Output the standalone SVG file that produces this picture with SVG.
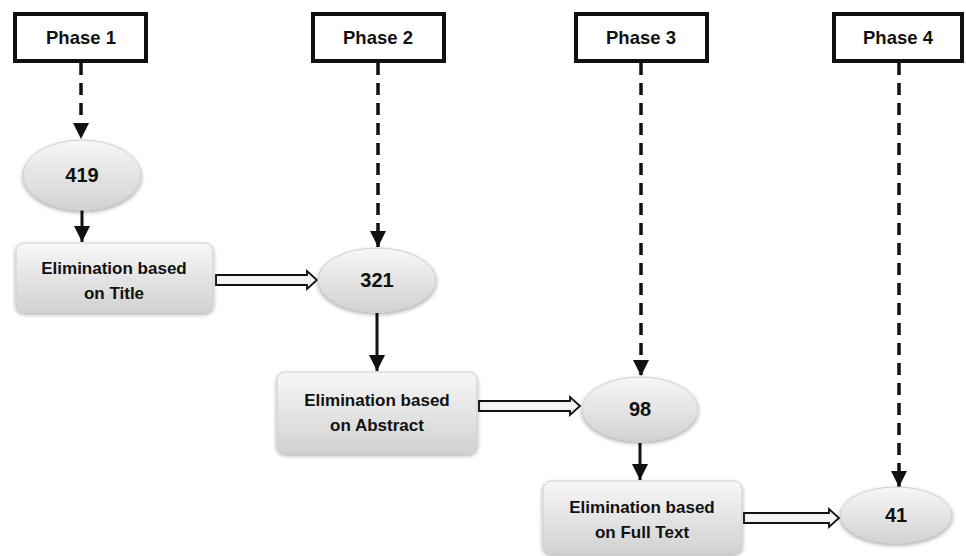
<svg xmlns="http://www.w3.org/2000/svg" width="966" height="556" viewBox="0 0 966 556">
<defs>
<linearGradient id="g" x1="0" y1="0" x2="0" y2="1">
<stop offset="0" stop-color="#f7f7f7"/>
<stop offset="1" stop-color="#d2d2d2"/>
</linearGradient>
<filter id="sh" x="-20%" y="-20%" width="140%" height="150%">
<feGaussianBlur in="SourceAlpha" stdDeviation="2"/>
<feOffset dx="0" dy="2" result="b"/>
<feComponentTransfer><feFuncA type="linear" slope="0.35"/></feComponentTransfer>
<feMerge><feMergeNode/><feMergeNode in="SourceGraphic"/></feMerge>
</filter>
<marker id="ah" markerUnits="userSpaceOnUse" markerWidth="16" markerHeight="16" viewBox="0 0 16 16" refX="16" refY="8" orient="auto">
<path d="M0,0 L16,8 L0,16 Z" fill="#111"/>
</marker>
</defs>
<style>
.ph{fill:#fff;stroke:#111;stroke-width:4}
.pt{font-family:"Liberation Sans",Arial,sans-serif;font-weight:bold;font-size:18.5px;fill:#111;text-anchor:middle}
.nd{fill:url(#g);stroke:#cfcfcf;stroke-width:1;filter:url(#sh)}
.nt{font-family:"Liberation Sans",Arial,sans-serif;font-weight:bold;font-size:17px;fill:#111;text-anchor:middle}
.num{font-family:"Liberation Sans",Arial,sans-serif;font-weight:bold;font-size:20px;fill:#111;text-anchor:middle}
.dash{stroke:#111;stroke-width:3.5;stroke-dasharray:12 8;fill:none}
.sol{stroke:#111;stroke-width:3;fill:none}
.hol{fill:#f4f4f4;stroke:#111;stroke-width:1.8;stroke-linejoin:miter}
</style>
<g id="connectors">
<line class="dash" x1="81" y1="63" x2="81" y2="139" marker-end="url(#ah)"/>
<line class="dash" x1="378" y1="63" x2="378" y2="247" marker-end="url(#ah)"/>
<line class="dash" x1="641" y1="63" x2="641" y2="376" marker-end="url(#ah)"/>
<line class="dash" x1="899" y1="63" x2="899" y2="487" marker-end="url(#ah)"/>
<line class="sol" x1="82" y1="210" x2="82" y2="242" marker-end="url(#ah)"/>
<line class="sol" x1="377" y1="313" x2="377" y2="371" marker-end="url(#ah)"/>
<line class="sol" x1="640" y1="443" x2="640" y2="480" marker-end="url(#ah)"/>
<path class="hol" d="M216,275 L307,275 L307,271 L317,280 L307,289 L307,285 L216,285 Z"/>
<path class="hol" d="M479,401 L570,401 L570,397 L580,406 L570,415 L570,411 L479,411 Z"/>
<path class="hol" d="M744,513 L829,513 L829,509 L839,518 L829,527 L829,523 L744,523 Z"/>
</g>
<g id="phase1"><rect class="ph" x="15" y="14" width="131" height="47"/><text class="pt" x="81" y="44">Phase 1</text></g>
<g id="phase2"><rect class="ph" x="313" y="14" width="131" height="47"/><text class="pt" x="378" y="44">Phase 2</text></g>
<g id="phase3"><rect class="ph" x="576" y="14" width="131" height="47"/><text class="pt" x="641" y="44">Phase 3</text></g>
<g id="phase4"><rect class="ph" x="834" y="14" width="128" height="47"/><text class="pt" x="898" y="44">Phase 4</text></g>
<g id="n419"><ellipse class="nd" cx="82" cy="175" rx="59" ry="35"/><text class="num" x="82" y="182">419</text></g>
<g id="elimTitle"><rect class="nd" x="16" y="243" width="197" height="69" rx="8"/><text class="nt" x="114" y="274">Elimination based</text><text class="nt" x="114" y="299">on Title</text></g>
<g id="n321"><ellipse class="nd" cx="377" cy="280" rx="59" ry="32"/><text class="num" x="377" y="287">321</text></g>
<g id="elimAbstract"><rect class="nd" x="277" y="372" width="200" height="81" rx="8"/><text class="nt" x="377" y="406">Elimination based</text><text class="nt" x="377" y="431">on Abstract</text></g>
<g id="n98"><ellipse class="nd" cx="640" cy="409" rx="58" ry="32"/><text class="num" x="640" y="416">98</text></g>
<g id="elimFull"><rect class="nd" x="543" y="481" width="199" height="72" rx="8"/><text class="nt" x="642" y="513">Elimination based</text><text class="nt" x="642" y="538">on Full Text</text></g>
<g id="n41"><ellipse class="nd" cx="896" cy="515" rx="56" ry="28"/><text class="num" x="896" y="522">41</text></g>
</svg>
